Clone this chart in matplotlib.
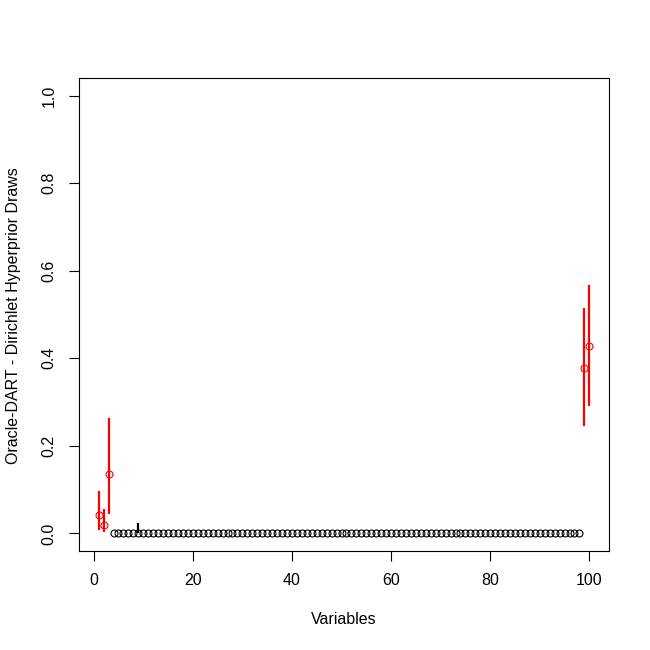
import numpy as np
import matplotlib
matplotlib.use("Agg")
import matplotlib.pyplot as plt

plt.rcParams['font.family'] = ['Liberation Sans', 'DejaVu Sans']

# posterior draws summary: variables with something other than zero
n_vars = 100
nz_vars = [1, 2, 3, 9, 99, 100]
nz_mean = [0.043, 0.020, 0.136, 0.0, 0.377, 0.427]
nz_lo = [0.008, 0.004, 0.044, 0.0, 0.246, 0.290]
nz_hi = [0.098, 0.055, 0.264, 0.025, 0.515, 0.568]
true_vars = [1, 2, 3, 99, 100]   # drawn in red

variables = np.arange(1, n_vars + 1)
mean = np.zeros(n_vars)
lo = np.zeros(n_vars)
hi = np.zeros(n_vars)
for v, m, l, h in zip(nz_vars, nz_mean, nz_lo, nz_hi):
    mean[v - 1] = m
    lo[v - 1] = l
    hi[v - 1] = h
colors = ['red' if v in true_vars else 'black' for v in variables]

fig = plt.figure(figsize=(6.5, 6.5), dpi=100)
ax = fig.add_axes([79 / 650, 99 / 650, 530 / 650, 473 / 650])

ax.vlines(variables, lo, hi, colors=colors, lw=1.6)
for c in ['black', 'red']:
    sel = np.array([col == c for col in colors])
    ax.plot(variables[sel], mean[sel], 'o', ms=5, mfc='none', mec=c, mew=0.8, ls='none')

ax.set_xlim(1 - 0.04 * 99, 100 + 0.04 * 99)
ax.set_ylim(-0.04, 1.04)
ax.set_xticks([0, 20, 40, 60, 80, 100])
ax.set_yticks([0.0, 0.2, 0.4, 0.6, 0.8, 1.0])
ax.set_yticklabels(['0.0', '0.2', '0.4', '0.6', '0.8', '1.0'], rotation=90, va='center')
ax.tick_params(length=7, width=0.8, pad=9, labelsize=11.5)
for s in ax.spines.values():
    s.set_linewidth(0.8)

fig.text(344 / 650, 1 - 620 / 650, 'Variables', ha='center', va='center', fontsize=11.5)
fig.text(13.5 / 650, 1 - 316 / 650, 'Oracle-DART - Dirichlet Hyperprior Draws',
         ha='center', va='center', rotation=90, fontsize=11.5)

fig.savefig('out.png', dpi=100)
